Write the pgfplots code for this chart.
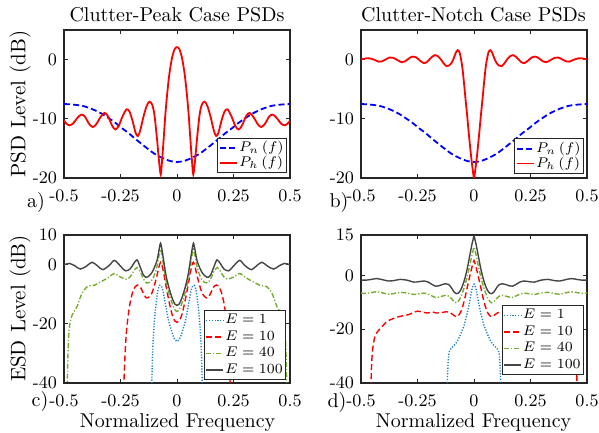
\documentclass[border=0pt]{standalone}
\usepackage{pgfplots}
\usepackage{pgfplotstable}
\pgfplotsset{compat=1.18}

\definecolor{axgray}{rgb}{0.15,0.15,0.15}
\definecolor{eone}{rgb}{0.1,0.5,0.8}
\definecolor{eforty}{rgb}{0.466,0.674,0.188}
\definecolor{ehund}{rgb}{0.27,0.27,0.27}

% P_n(f), same in both top panels
\pgfplotstableread{
f v
-0.5 -7.5
-0.46 -7.6
-0.42 -7.8
-0.39 -8.15
-0.361 -8.6
-0.33 -9.2
-0.302 -9.9
-0.272 -10.7
-0.243 -11.6
-0.215 -12.4
-0.184 -13.4
-0.155 -14.3
-0.125 -15.2
-0.1 -15.9
-0.066 -16.6
-0.033 -17.1
0 -17.3
0.033 -17.1
0.066 -16.6
0.1 -15.9
0.125 -15.2
0.155 -14.3
0.184 -13.4
0.215 -12.4
0.243 -11.6
0.272 -10.7
0.302 -9.9
0.33 -9.2
0.361 -8.6
0.39 -8.15
0.42 -7.8
0.46 -7.6
0.5 -7.5
}\pn

% P_h(f), clutter-peak
\pgfplotstableread{
f v
-0.5 -10.3
-0.49 -10.8
-0.476 -11.1
-0.46 -10.8
-0.442 -9.9
-0.424 -9.3
-0.408 -9.6
-0.39 -10.8
-0.373 -11.4
-0.357 -10.9
-0.34 -9.8
-0.321 -9.0
-0.305 -9.6
-0.288 -11.1
-0.273 -11.8
-0.258 -11.2
-0.24 -9.5
-0.223 -8.4
-0.21 -8.8
-0.197 -10.3
-0.183 -12.4
-0.173 -12.9
-0.163 -12.0
-0.15 -9.9
-0.135 -7.9
-0.122 -7.1
-0.11 -7.6
-0.1 -9.3
-0.0885 -13.4
-0.08 -17.0
-0.072 -19.4
-0.066 -17.0
-0.059 -13.4
-0.052 -9.5
-0.044 -6.0
-0.034 -2.5
-0.022 0.3
-0.01 1.8
0 2.1
0.01 1.8
0.022 0.3
0.034 -2.5
0.044 -6.0
0.052 -9.5
0.059 -13.4
0.066 -17.0
0.072 -19.4
0.08 -17.0
0.0885 -13.4
0.1 -9.3
0.11 -7.6
0.122 -7.1
0.135 -7.9
0.15 -9.9
0.163 -12.0
0.173 -12.9
0.183 -12.4
0.197 -10.3
0.21 -8.8
0.223 -8.4
0.24 -9.5
0.258 -11.2
0.273 -11.8
0.288 -11.1
0.305 -9.6
0.321 -9.0
0.34 -9.8
0.357 -10.9
0.373 -11.4
0.39 -10.8
0.408 -9.6
0.424 -9.3
0.442 -9.9
0.46 -10.8
0.476 -11.1
0.49 -10.8
0.5 -10.3
}\pha

% P_h(f), clutter-notch
\pgfplotstableread{
f v
-0.5 0.05
-0.49 0.1
-0.476 0.22
-0.46 0.2
-0.44 -0.05
-0.422 -0.35
-0.408 -0.3
-0.392 0.0
-0.373 0.35
-0.357 0.3
-0.338 -0.1
-0.32 -0.45
-0.305 -0.3
-0.29 0.15
-0.273 0.5
-0.255 0.35
-0.235 -0.3
-0.222 -0.6
-0.212 -0.5
-0.2 -0.1
-0.185 0.5
-0.173 0.75
-0.163 0.65
-0.15 0.2
-0.135 -0.6
-0.122 -1.1
-0.11 -1.0
-0.1 -0.6
-0.09 0.2
-0.08 1.2
-0.072 1.6
-0.066 1.4
-0.06 0.6
-0.052 -1.2
-0.045 -3.7
-0.038 -6.5
-0.03 -9.6
-0.023 -12.5
-0.016 -15.2
-0.01 -17.3
-0.005 -18.8
0 -20.0
0.005 -18.8
0.01 -17.3
0.016 -15.2
0.023 -12.5
0.03 -9.6
0.038 -6.5
0.045 -3.7
0.052 -1.2
0.06 0.6
0.066 1.4
0.072 1.6
0.08 1.2
0.09 0.2
0.1 -0.6
0.11 -1.0
0.122 -1.1
0.135 -0.6
0.15 0.2
0.163 0.65
0.173 0.75
0.185 0.5
0.2 -0.1
0.212 -0.5
0.222 -0.6
0.235 -0.3
0.255 0.35
0.273 0.5
0.29 0.15
0.305 -0.3
0.32 -0.45
0.338 -0.1
0.357 0.3
0.373 0.35
0.392 0.0
0.408 -0.3
0.422 -0.35
0.44 -0.05
0.46 0.2
0.476 0.22
0.49 0.1
0.5 0.05
}\phb

% ESD, clutter-peak
\pgfplotstableread{
f v
-0.112 -42
-0.109 -32.0
-0.105 -25.0
-0.099 -18.0
-0.092 -13.0
-0.087 -9.8
-0.082 -8.0
-0.076 -7.0
-0.07 -7.2
-0.063 -8.5
-0.052 -13.0
-0.04 -18.0
-0.03 -21.0
-0.015 -24.5
0 -26.0
0.015 -24.5
0.03 -21.0
0.04 -18.0
0.052 -13.0
0.063 -8.5
0.07 -7.2
0.076 -7.0
0.082 -8.0
0.087 -9.8
0.092 -13.0
0.099 -18.0
0.105 -25.0
0.109 -32.0
0.112 -42
}\cone

\pgfplotstableread{
f v
-0.236 -42
-0.233 -36
-0.229 -29
-0.224 -23
-0.218 -18.5
-0.212 -15.0
-0.205 -12.0
-0.196 -9.3
-0.186 -7.6
-0.174 -6.9
-0.162 -7.6
-0.15 -9.5
-0.137 -11.2
-0.125 -11.0
-0.112 -9.8
-0.1 -7.0
-0.088 -3.5
-0.079 -0.5
-0.072 0.8
-0.066 -0.3
-0.058 -3.2
-0.048 -7.5
-0.035 -12.5
-0.022 -16.8
-0.01 -19.0
0 -19.5
0.01 -19.0
0.022 -16.8
0.035 -12.5
0.048 -7.5
0.058 -3.2
0.066 -0.3
0.072 0.8
0.079 -0.5
0.088 -3.5
0.1 -7.0
0.112 -9.8
0.125 -11.0
0.137 -11.2
0.15 -9.5
0.162 -7.6
0.174 -6.9
0.186 -7.6
0.196 -9.3
0.205 -12.0
0.212 -15.0
0.218 -18.5
0.224 -23
0.229 -29
0.233 -36
0.236 -42
}\cten

\pgfplotstableread{
f v
-0.486 -42
-0.483 -32
-0.48 -25
-0.476 -21.0
-0.47 -18.5
-0.463 -16.9
-0.455 -15.8
-0.441 -14.0
-0.43 -11.5
-0.419 -9.5
-0.41 -8.5
-0.398 -7.5
-0.385 -7.1
-0.367 -7.0
-0.344 -6.1
-0.32 -5.1
-0.3 -4.2
-0.278 -3.0
-0.25 -4.2
-0.225 -4.9
-0.208 -4.2
-0.192 -2.3
-0.178 -1.0
-0.163 -2.4
-0.148 -4.9
-0.135 -6.2
-0.125 -6.1
-0.112 -5.3
-0.1 -3.5
-0.088 -0.5
-0.08 3.0
-0.073 5.2
-0.066 3.0
-0.058 -1.2
-0.048 -5.6
-0.035 -9.8
-0.022 -13.0
-0.01 -15.2
0 -15.8
0.01 -15.2
0.022 -13.0
0.035 -9.8
0.048 -5.6
0.058 -1.2
0.066 3.0
0.073 5.2
0.08 3.0
0.088 -0.5
0.1 -3.5
0.112 -5.3
0.125 -6.1
0.135 -6.2
0.148 -4.9
0.163 -2.4
0.178 -1.0
0.192 -2.3
0.208 -4.2
0.225 -4.9
0.25 -4.2
0.278 -3.0
0.3 -4.2
0.32 -5.1
0.344 -6.1
0.367 -7.0
0.385 -7.1
0.398 -7.5
0.41 -8.5
0.419 -9.5
0.43 -11.5
0.441 -14.0
0.455 -15.8
0.463 -16.9
0.47 -18.5
0.476 -21.0
0.48 -25
0.483 -32
0.486 -42
}\cforty

\pgfplotstableread{
f v
-0.5 -0.1
-0.49 0.2
-0.476 0.4
-0.452 -0.4
-0.428 -1.5
-0.4 -0.5
-0.376 0.8
-0.352 -0.4
-0.329 -1.7
-0.3 -0.3
-0.277 1.4
-0.25 -0.5
-0.229 -2.1
-0.208 -1.5
-0.192 0.3
-0.177 1.6
-0.163 -0.8
-0.15 -3.3
-0.138 -4.3
-0.125 -3.9
-0.112 -2.8
-0.1 -1.0
-0.088 1.5
-0.08 4.8
-0.073 7.2
-0.066 4.8
-0.058 0.8
-0.048 -3.9
-0.035 -8.0
-0.022 -11.2
-0.01 -13.3
0 -13.8
0.01 -13.3
0.022 -11.2
0.035 -8.0
0.048 -3.9
0.058 0.8
0.066 4.8
0.073 7.2
0.08 4.8
0.088 1.5
0.1 -1.0
0.112 -2.8
0.125 -3.9
0.138 -4.3
0.15 -3.3
0.163 -0.8
0.177 1.6
0.192 0.3
0.208 -1.5
0.229 -2.1
0.25 -0.5
0.277 1.4
0.3 -0.3
0.329 -1.7
0.352 -0.4
0.376 0.8
0.4 -0.5
0.428 -1.5
0.452 -0.4
0.476 0.4
0.49 0.2
0.5 -0.1
}\chund

% ESD, clutter-notch
\pgfplotstableread{
f v
-0.118 -42
-0.117 -37
-0.115 -33
-0.112 -29.5
-0.108 -28.0
-0.1 -27.0
-0.088 -26.0
-0.074 -24.5
-0.06 -22.0
-0.052 -20.3
-0.045 -19.0
-0.03 -14.0
-0.022 -11.0
-0.015 -7.8
-0.01 -5.5
-0.004 -3.7
0 -3.3
0.004 -3.7
0.01 -5.5
0.015 -7.8
0.022 -11.0
0.03 -14.0
0.045 -19.0
0.052 -20.3
0.06 -22.0
0.074 -24.5
0.088 -26.0
0.1 -27.0
0.108 -28.0
0.112 -29.5
0.115 -33
0.117 -37
0.118 -42
}\done

\pgfplotstableread{
f v
-0.456 -42
-0.454 -35
-0.451 -30
-0.447 -26.5
-0.44 -23.2
-0.43 -21.3
-0.42 -20.2
-0.405 -18.9
-0.39 -17.5
-0.376 -16.7
-0.355 -16.0
-0.33 -15.3
-0.29 -14.6
-0.27 -13.9
-0.25 -13.3
-0.225 -13.7
-0.205 -14.0
-0.185 -13.6
-0.165 -14.0
-0.14 -13.8
-0.122 -13.5
-0.105 -13.9
-0.09 -14.8
-0.078 -15.4
-0.07 -15.0
-0.06 -13.8
-0.05 -11.5
-0.04 -8.3
-0.03 -4.5
-0.02 -0.8
-0.01 2.8
-0.005 4.3
0 5.5
0.005 4.3
0.01 2.8
0.02 -0.8
0.03 -4.5
0.04 -8.3
0.05 -11.5
0.06 -13.8
0.07 -15.0
0.078 -15.4
0.09 -14.8
0.105 -13.9
0.122 -13.5
0.14 -13.8
0.165 -14.0
0.185 -13.6
0.205 -14.0
0.225 -13.7
0.25 -13.3
0.27 -13.9
0.29 -14.6
0.33 -15.3
0.355 -16.0
0.376 -16.7
0.39 -17.5
0.405 -18.9
0.42 -20.2
0.43 -21.3
0.44 -23.2
0.447 -26.5
0.451 -30
0.454 -35
0.456 -42
}\dten

\pgfplotstableread{
f v
-0.5 -6.6
-0.48 -6.7
-0.455 -6.4
-0.43 -6.1
-0.405 -6.5
-0.378 -7.0
-0.352 -6.7
-0.327 -6.3
-0.295 -6.6
-0.267 -7.1
-0.24 -6.8
-0.22 -6.6
-0.205 -6.9
-0.187 -7.6
-0.171 -8.2
-0.157 -8.1
-0.14 -7.7
-0.125 -7.4
-0.112 -7.7
-0.1 -8.6
-0.088 -9.8
-0.078 -10.2
-0.07 -9.7
-0.06 -8.3
-0.05 -6.2
-0.04 -3.6
-0.03 -0.5
-0.02 3.2
-0.01 7.2
-0.005 9.0
0 10.5
0.005 9.0
0.01 7.2
0.02 3.2
0.03 -0.5
0.04 -3.6
0.05 -6.2
0.06 -8.3
0.07 -9.7
0.078 -10.2
0.088 -9.8
0.1 -8.6
0.112 -7.7
0.125 -7.4
0.14 -7.7
0.157 -8.1
0.171 -8.2
0.187 -7.6
0.205 -6.9
0.22 -6.6
0.24 -6.8
0.267 -7.1
0.295 -6.6
0.327 -6.3
0.352 -6.7
0.378 -7.0
0.405 -6.5
0.43 -6.1
0.455 -6.4
0.48 -6.7
0.5 -6.6
}\dforty

\pgfplotstableread{
f v
-0.5 -1.7
-0.48 -1.8
-0.455 -1.5
-0.43 -1.2
-0.405 -1.6
-0.378 -2.1
-0.352 -1.9
-0.327 -1.5
-0.295 -1.8
-0.267 -2.5
-0.24 -2.3
-0.22 -2.1
-0.205 -2.4
-0.187 -3.3
-0.171 -4.0
-0.157 -3.9
-0.14 -3.4
-0.125 -3.1
-0.112 -3.4
-0.1 -4.6
-0.088 -6.2
-0.078 -6.8
-0.07 -6.6
-0.06 -5.6
-0.05 -3.7
-0.04 -1.0
-0.03 2.5
-0.02 6.8
-0.01 11.2
-0.005 13.0
0 14.6
0.005 13.0
0.01 11.2
0.02 6.8
0.03 2.5
0.04 -1.0
0.05 -3.7
0.06 -5.6
0.07 -6.6
0.078 -6.8
0.088 -6.2
0.1 -4.6
0.112 -3.4
0.125 -3.1
0.14 -3.4
0.157 -3.9
0.171 -4.0
0.187 -3.3
0.205 -2.4
0.22 -2.1
0.24 -2.3
0.267 -2.5
0.295 -1.8
0.327 -1.5
0.352 -1.9
0.378 -2.1
0.405 -1.6
0.43 -1.2
0.455 -1.5
0.48 -1.8
0.5 -1.7
}\dhund

\pgfplotsset{
  panel/.style={
    scale only axis, width=113pt, height=74pt, anchor=south west,
    xmin=-0.5, xmax=0.5,
    xtick={-0.5,-0.25,0,0.25,0.5},
    xticklabels={-0.5,-0.25,0,0.25,0.5},
    tick align=inside, major tick length=2pt,
    axis line style={axgray, line width=0.6pt},
    every tick/.style={axgray, line width=0.5pt},
    ticklabel style={font=\fontsize{8.8}{10}\selectfont},
    xticklabel style={yshift=-2.5pt},
    legend cell align=left,
    legend style={font=\fontsize{7.2}{8.5}\selectfont, draw=axgray, line width=0.5pt,
      inner xsep=0.6pt, inner ysep=0.8pt,
      nodes={inner xsep=0.6pt, inner ysep=0.8pt}, row sep=0.4pt, anchor=south east},
    legend image code/.code={\draw[#1] (0pt,0pt) -- (8.5pt,0pt);},
  },
  pnline/.style={blue, dash pattern=on 3pt off 1.6pt, line width=0.9pt, smooth},
  phline/.style={red, line width=0.9pt, smooth},
  eoneline/.style={eone, dash pattern=on 0.6pt off 0.8pt, line width=0.7pt, smooth},
  etenline/.style={red, dash pattern=on 3pt off 1.6pt, line width=0.7pt, smooth},
  efortyline/.style={eforty, dash pattern=on 2.5pt off 1pt on 0.6pt off 1pt, line width=0.7pt, smooth},
  ehundline/.style={ehund, line width=0.7pt, smooth},
}

\begin{document}
\begin{tikzpicture}
\path[use as bounding box] (0,0) rectangle (299.5pt,216.5pt);

\begin{axis}[panel, at={(32pt,127.5pt)}, ymin=-20, ymax=5,
  ytick={-20,-10,0}, yticklabels={-20,-10,0},
  legend style={at={(0.985,0.032)}, row sep=-1pt}]
\addplot[pnline] table[x=f,y=v] {\pn};
\addlegendentry{$P_n\left(f\right)$}
\addplot[phline] table[x=f,y=v] {\pha};
\addlegendentry{$P_h\left(f\right)$}
\end{axis}

\begin{axis}[panel, at={(180.5pt,127.5pt)}, ymin=-20, ymax=5,
  ytick={-20,-10,0}, yticklabels={-20,-10,0},
  legend style={at={(0.985,0.027)}, row sep=-1pt}]
\addplot[pnline] table[x=f,y=v] {\pn};
\addlegendentry{$P_n\left(f\right)$}
\addplot[phline] table[x=f,y=v] {\phb};
\addlegendentry{$P_h\left(f\right)$}
\end{axis}

\begin{axis}[panel, at={(32pt,25pt)}, ymin=-40, ymax=10,
  ytick={-40,-20,0,10}, yticklabels={-40,-20,0,10},
  legend style={at={(0.981,0.02)}}]
\addplot[eoneline] table[x=f,y=v] {\cone};
\addlegendentry{$E=1$}
\addplot[etenline] table[x=f,y=v] {\cten};
\addlegendentry{$E=10$}
\addplot[efortyline] table[x=f,y=v] {\cforty};
\addlegendentry{$E=40$}
\addplot[ehundline] table[x=f,y=v] {\chund};
\addlegendentry{$E=100$}
\end{axis}

\begin{axis}[panel, at={(180.5pt,25pt)}, ymin=-40, ymax=15,
  ytick={-40,-20,0,15}, yticklabels={-40,-20,0,15},
  legend style={at={(0.985,0.054)}}]
\addplot[eoneline] table[x=f,y=v] {\done};
\addlegendentry{$E=1$}
\addplot[etenline] table[x=f,y=v] {\dten};
\addlegendentry{$E=10$}
\addplot[efortyline] table[x=f,y=v] {\dforty};
\addlegendentry{$E=40$}
\addplot[ehundline] table[x=f,y=v] {\dhund};
\addlegendentry{$E=100$}
\end{axis}

\node[anchor=base, font=\fontsize{10}{12}\selectfont, inner sep=0pt] at (88.5pt,205.5pt) {Clutter-Peak Case PSDs};
\node[anchor=base, font=\fontsize{10}{12}\selectfont, inner sep=0pt] at (236.75pt,205.5pt) {Clutter-Notch Case PSDs};

\node[rotate=90, font=\fontsize{10.5}{12}\selectfont] at (10pt,164.5pt) {PSD Level (dB)};
\node[rotate=90, font=\fontsize{10.5}{12}\selectfont] at (10pt,62.25pt) {ESD Level (dB)};
\node[anchor=base, font=\fontsize{10}{12}\selectfont, inner sep=0pt] at (88.75pt,2.5pt) {Normalized Frequency};
\node[anchor=base, font=\fontsize{10}{12}\selectfont, inner sep=0pt] at (236.75pt,2.5pt) {Normalized Frequency};

\node[font=\fontsize{10}{12}\selectfont] at (18pt,115pt) {a)};
\node[font=\fontsize{10}{12}\selectfont] at (169.5pt,115pt) {b)};
\node[font=\fontsize{10}{12}\selectfont] at (20pt,15.5pt) {c)};
\node[font=\fontsize{10}{12}\selectfont] at (168.5pt,15pt) {d)};
\end{tikzpicture}
\end{document}
